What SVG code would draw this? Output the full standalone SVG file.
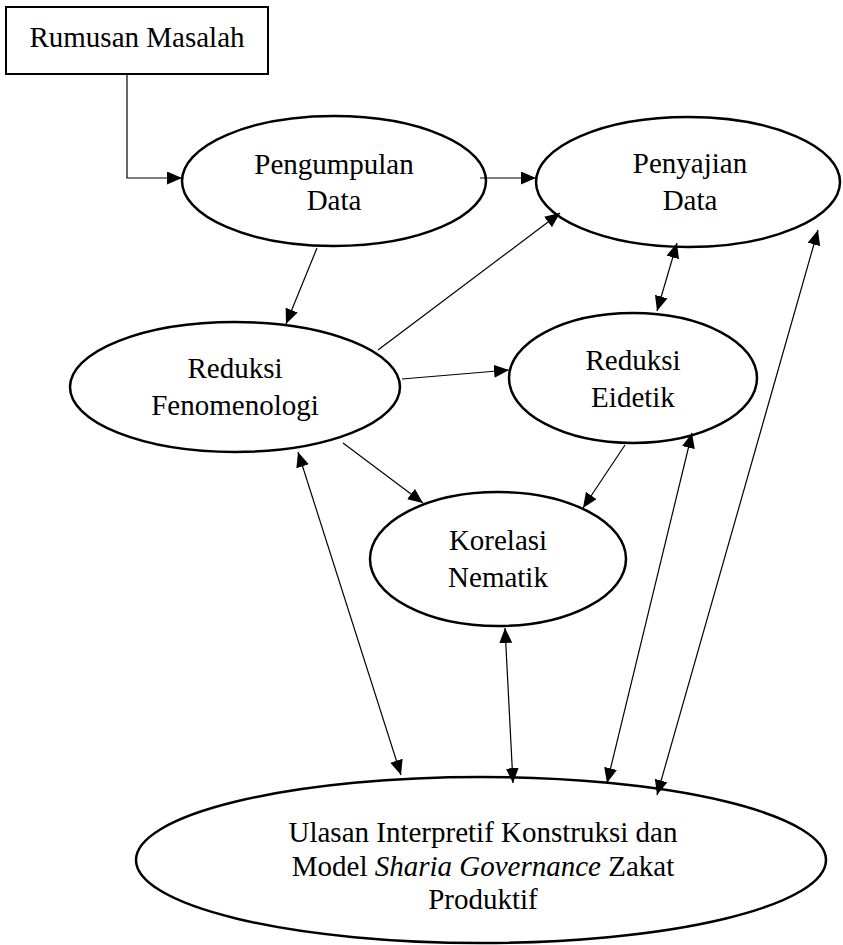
<svg xmlns="http://www.w3.org/2000/svg" width="843" height="945" viewBox="0 0 843 945">
<style>
.node{fill:#fff;stroke:#000;stroke-width:2.5}
.box{fill:#fff;stroke:#000;stroke-width:2}
.t{font-family:"Liberation Serif","Times New Roman",serif;font-size:29px;fill:#000;text-anchor:middle}
.c{fill:none;stroke:#000;stroke-width:1.2}
</style>
<defs>
<marker id="ah" markerUnits="userSpaceOnUse" markerWidth="16" markerHeight="14" refX="15" refY="6.5" orient="auto-start-reverse" viewBox="0 0 16 14">
<path d="M0,0 L15,6.5 L0,13 z" fill="#000"/>
</marker>
</defs>
<g id="rumusan">
<rect class="box" x="6" y="7" width="262" height="67"/>
<text class="t" x="137" y="47">Rumusan Masalah</text>
</g>
<g id="pengumpulan">
<ellipse class="node" cx="334" cy="181" rx="152" ry="65"/>
<text class="t" x="334" y="174">Pengumpulan</text>
<text class="t" x="334" y="210">Data</text>
</g>
<g id="penyajian">
<ellipse class="node" cx="688" cy="182" rx="152" ry="65"/>
<text class="t" x="690" y="173">Penyajian</text>
<text class="t" x="690" y="210">Data</text>
</g>
<g id="fenomenologi">
<ellipse class="node" cx="235" cy="387" rx="165" ry="65"/>
<text class="t" x="235" y="378">Reduksi</text>
<text class="t" x="235" y="415">Fenomenologi</text>
</g>
<g id="eidetik">
<ellipse class="node" cx="633" cy="378" rx="124" ry="65"/>
<text class="t" x="633" y="370">Reduksi</text>
<text class="t" x="633" y="407">Eidetik</text>
</g>
<g id="korelasi">
<ellipse class="node" cx="498" cy="559" rx="128" ry="67"/>
<text class="t" x="498" y="550">Korelasi</text>
<text class="t" x="498" y="587">Nematik</text>
</g>
<g id="ulasan">
<ellipse class="node" cx="481" cy="860" rx="345" ry="83"/>
<text class="t" x="483" y="842">Ulasan Interpretif Konstruksi dan</text>
<text class="t" x="483" y="876">Model <tspan font-style="italic">Sharia Governance</tspan> Zakat</text>
<text class="t" x="483" y="909">Produktif</text>
</g>
<g id="connectors">
<path class="c" d="M127,74 L127,178 L182,178" marker-end="url(#ah)"/>
<path class="c" d="M480,178 L536,178" marker-end="url(#ah)"/>
<path class="c" d="M317,248 L286,324" marker-end="url(#ah)"/>
<path class="c" d="M378,350 L560,213" marker-end="url(#ah)"/>
<path class="c" d="M677,243 L657,311" marker-start="url(#ah)" marker-end="url(#ah)"/>
<path class="c" d="M402,379 L509,370" marker-end="url(#ah)"/>
<path class="c" d="M343,443 L423,503" marker-end="url(#ah)"/>
<path class="c" d="M625,445 L583,508" marker-end="url(#ah)"/>
<path class="c" d="M298,452 L401,775" marker-start="url(#ah)" marker-end="url(#ah)"/>
<path class="c" d="M505,628 L513,783" marker-start="url(#ah)" marker-end="url(#ah)"/>
<path class="c" d="M692,433 L607,783" marker-start="url(#ah)" marker-end="url(#ah)"/>
<path class="c" d="M818,230 L657,795" marker-start="url(#ah)" marker-end="url(#ah)"/>
</g>
</svg>
